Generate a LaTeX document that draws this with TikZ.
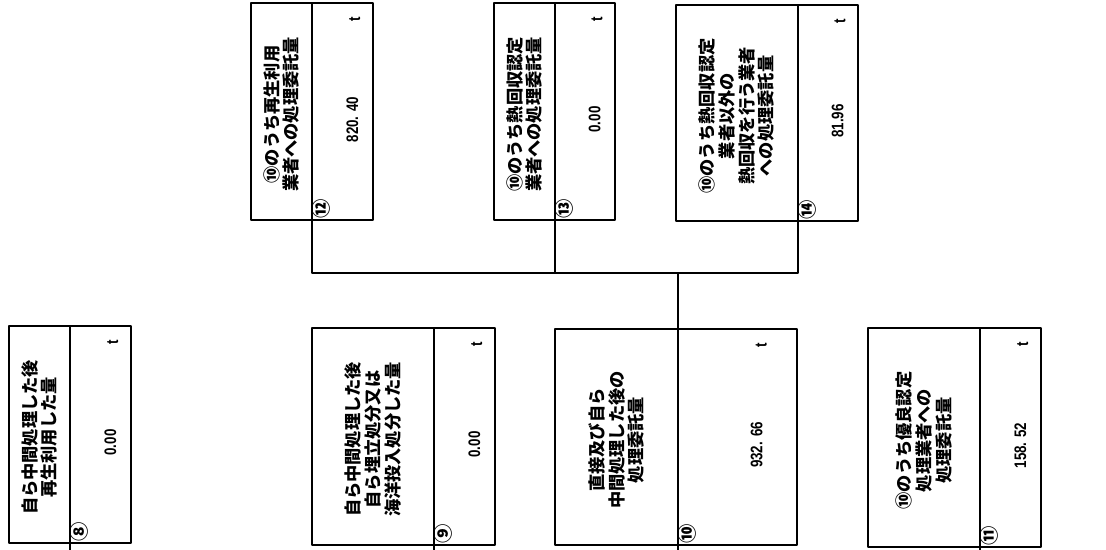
\documentclass[tikz,border=0pt]{standalone}
\usepackage{fontspec}
\setmainfont{Noto Sans CJK JP}
\newfontfamily\numfont[FakeStretch=0.8]{Liberation Sans}
\usetikzlibrary{calc}
% one report box: name, left, divider, right, top, bottom, label, value, number
\newcommand{\regbox}[9]{%
  \draw[boxline] (#2,#5) rectangle (#4,#6);
  \draw[boxline] (#3,#5) -- (#3,#6);
  \coordinate (#1-top) at (#3,#5);
  \coordinate (#1-bot) at (#3,#6);
  \node[lab] (#1-lab) at ({(#2+#3)/2},{(#5+#6)/2+3}) {#7};
  \node[val] (#1-val) at ({#3+0.66*(#4-#3)},{(#5+#6)/2+8}) {#8};
  \node[val] (#1-t) at ({#3+0.7*(#4-#3)},{#5+16}) {t};
  \node[num] (#1-no) at ({#3+9},{#6-11}) {#9};
}
\begin{document}
\begin{tikzpicture}[x=0.02cm,y=-0.02cm, line join=round,
		boxline/.style={line width=1pt},
		link/.style={line width=0.7pt},
		lab/.style={rotate=90, align=center, inner sep=0pt, font=\fontsize{9.8}{11.2}\selectfont\bfseries},
		val/.style={rotate=90, inner sep=0pt, font=\fontsize{9.5}{10}\selectfont\numfont\bfseries},
		num/.style={rotate=90, inner sep=0pt, font=\fontsize{11}{11}\selectfont\bfseries}]
	\useasboundingbox (0,0) rectangle (1106,550);
	% lower row
	\regbox{b8}{9}{70}{131}{326}{543}{自ら中間処理した後\\再生利用した量}{0.00}{⑧}
	\regbox{b9}{312}{434}{495}{328}{545}{自ら中間処理した後\\自ら埋立処分又は\\海洋投入処分した量}{0.00}{⑨}
	\regbox{b10}{555}{678}{797}{329}{545}{直接及び自ら\\中間処理した後の\\処理委託量}{932. 66}{⑩}
	\regbox{b11}{868}{980}{1041}{328}{547}{⑩のうち優良認定\\処理業者への\\処理委託量}{158. 52}{⑪}
	% upper row
	\regbox{b12}{251}{312}{373}{3}{220}{⑩のうち再生利用\\業者への処理委託量}{820. 40}{⑫}
	\regbox{b13}{494}{555}{615}{3}{220}{⑩のうち熱回収認定\\業者への処理委託量}{0.00}{⑬}
	\regbox{b14}{676}{798}{858}{5}{221}{⑩のうち熱回収認定\\業者以外の\\熱回収を行う業者\\への処理委託量}{81.96}{⑭}
	% connectors
	\coordinate (hub) at (677,273);
	\draw[link] (b12-bot) -- (b12-bot |- hub) -- (b14-bot |- hub) -- (b14-bot);
	\draw[link] (b13-bot) -- (b13-bot |- hub);
	\draw[link] (b10-top) -- (b10-top |- hub);
	\foreach \b in {b8,b9,b10,b11}
		{\coordinate (\b-out) at ($(\b-bot)+(0,8)$);
		\draw[link] (\b-bot) -- (\b-out);}
\end{tikzpicture}
\end{document}
